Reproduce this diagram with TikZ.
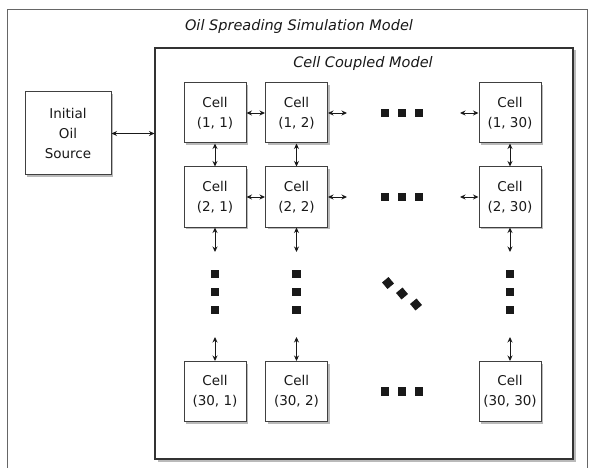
\documentclass[tikz,border=0pt]{standalone}
\usepackage{fontspec}
\setmainfont{DejaVu Sans}
\usetikzlibrary{arrows.meta,shadows}
\begin{document}
\begin{tikzpicture}[x=1pt,y=-1pt,
  cellbox/.style={draw=black!75, line width=1pt, fill=white, minimum width=62pt, minimum height=60pt,
    align=center, font=\fontsize{13.5}{20}\selectfont, text=black!90, inner sep=0pt,
    drop shadow={shadow xshift=2.2pt, shadow yshift=-2.2pt, fill=black!45, opacity=0.6}},
  titletext/.style={font=\fontsize{14.5}{17}\selectfont\itshape, text=black!90},
  bi/.style={{Stealth[length=5.5pt,width=5pt]}-{Stealth[length=5.5pt,width=5pt]}, line width=0.9pt, draw=black!90},
  sq/.style={fill=black!90, minimum size=8.5pt, inner sep=0pt},
]
\useasboundingbox (0,0) rectangle (592,468);
% outer model frame
\draw[black!60, line width=1.5pt] (7.5,468) -- (7.5,9.5) -- (587.5,9.5) -- (587.5,468);
\node[titletext] (title) at (299,27) {Oil Spreading Simulation Model};
% inner coupled model
\node[draw=black!80, line width=1.1pt, fill=white, minimum width=418pt, minimum height=411pt, inner sep=0pt,
  drop shadow={shadow xshift=2.5pt, shadow yshift=-2.5pt, fill=black!45, opacity=0.6}] (inner) at (364,253.5) {};
\node[titletext] (ctitle) at (363,64) {Cell Coupled Model};
% initial oil source
\node[cellbox, minimum width=86pt, minimum height=83pt] (init) at (68,133.5) {Initial\\Oil\\Source};
\draw[bi] (init.east) -- (init.east -| inner.west);
% cells
\node[cellbox] (c11) at (215,113) {Cell\\(1, 1)};
\node[cellbox] (c12) at (296.5,113) {Cell\\(1, 2)};
\node[cellbox] (c1n) at (510,113) {Cell\\(1, 30)};
\node[cellbox] (c21) at (215,197) {Cell\\(2, 1)};
\node[cellbox] (c22) at (296.5,197) {Cell\\(2, 2)};
\node[cellbox] (c2n) at (510,197) {Cell\\(2, 30)};
\node[cellbox] (cn1) at (215,391.5) {Cell\\(30, 1)};
\node[cellbox] (cn2) at (296.5,391.5) {Cell\\(30, 2)};
\node[cellbox] (cnn) at (510,391.5) {Cell\\(30, 30)};
% horizontal ellipses
\foreach \r/\y in {1/113,2/197,3/391.5}{
  \node[sq] (h\r a) at (385,\y) {};
  \node[sq] (h\r b) at (402,\y) {};
  \node[sq] (h\r c) at (419,\y) {};
}
% vertical ellipses
\foreach \c/\x in {1/215,2/296.5,3/510}{
  \node[sq] (v\c a) at (\x,274) {};
  \node[sq] (v\c b) at (\x,292) {};
  \node[sq] (v\c c) at (\x,310) {};
}
% diagonal ellipsis
\node[sq, rotate=40] (dga) at (388,283) {};
\node[sq, rotate=40] (dgb) at (402,293.5) {};
\node[sq, rotate=40] (dgc) at (416,304.5) {};
% arrow end points
\coordinate (r1o) at (347,113);
\coordinate (r1i) at (460,113);
\coordinate (r2o) at (347,197);
\coordinate (r2i) at (460,197);
\coordinate (k1o) at (215,252);
\coordinate (k1i) at (215,337);
\coordinate (k2o) at (296.5,252);
\coordinate (k2i) at (296.5,337);
\coordinate (k3o) at (510,252);
\coordinate (k3i) at (510,337);
% horizontal connectors
\draw[bi] (c11) -- (c12);
\draw[bi] (c12) -- (r1o);
\draw[bi] (r1i) -- (c1n);
\draw[bi] (c21) -- (c22);
\draw[bi] (c22) -- (r2o);
\draw[bi] (r2i) -- (c2n);
% vertical connectors
\draw[bi] (c11) -- (c21);
\draw[bi] (c12) -- (c22);
\draw[bi] (c1n) -- (c2n);
\draw[bi] (c21) -- (k1o);
\draw[bi] (c22) -- (k2o);
\draw[bi] (c2n) -- (k3o);
\draw[bi] (k1i) -- (cn1);
\draw[bi] (k2i) -- (cn2);
\draw[bi] (k3i) -- (cnn);
\end{tikzpicture}
\end{document}
